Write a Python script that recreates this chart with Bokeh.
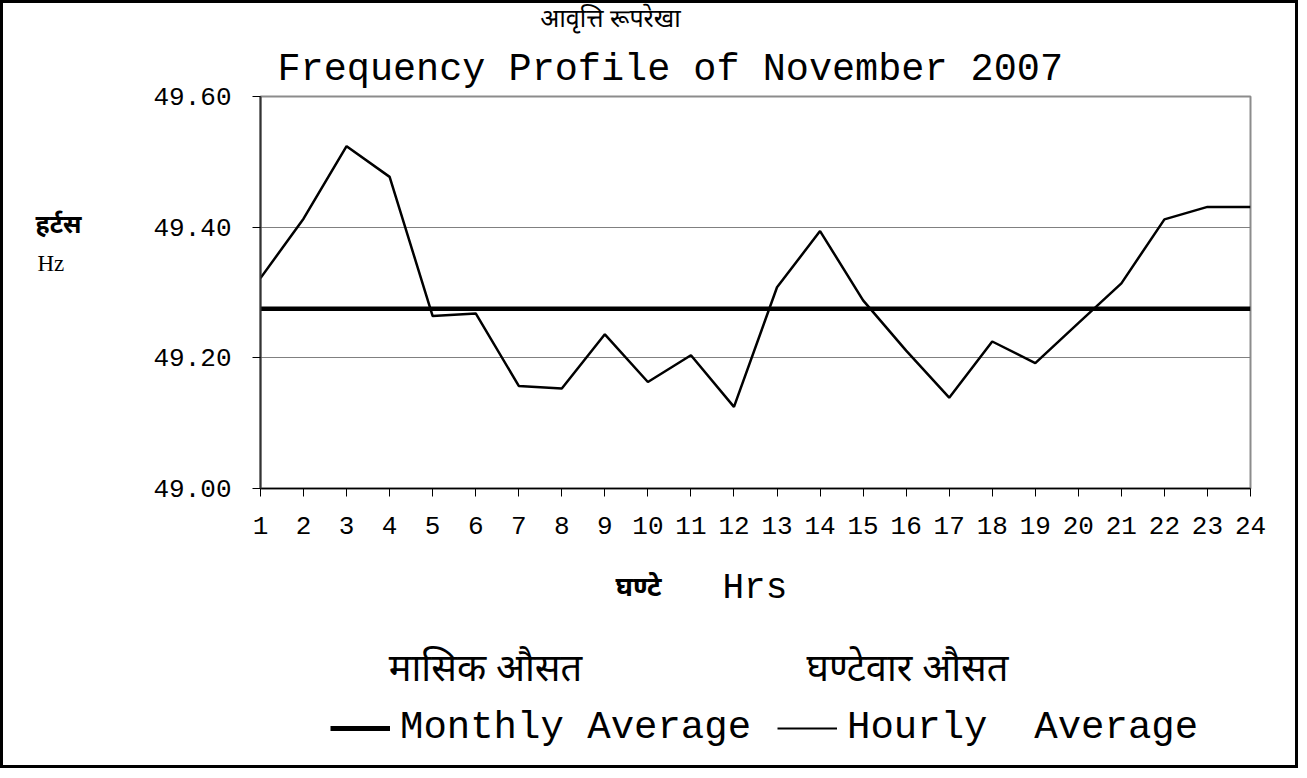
from bokeh.plotting import figure
from bokeh.layouts import column, row
from bokeh.models import (Range1d, FixedTicker, PrintfTickFormatter, Label,
                          Legend, LegendItem)
from bokeh.embed import file_html
from bokeh.resources import INLINE

# ---------------- data ----------------
hours = list(range(1, 25))
hourly_average = [49.322, 49.413, 49.524, 49.477, 49.264, 49.268, 49.157, 49.153,
                  49.236, 49.163, 49.204, 49.125, 49.308, 49.394, 49.288, 49.211,
                  49.139, 49.225, 49.192, 49.253, 49.314, 49.412, 49.431, 49.431]
monthly_average_value = 49.275
monthly_average = [monthly_average_value for _ in hours]
y_ticks = [49.00, 49.20, 49.40, 49.60]

title_hi = "आवृत्ति रूपरेखा"
title_en = "Frequency Profile of November 2007"
ylabel_hi = "हर्टस"
ylabel_en = "Hz"
xlabel_hi = "घण्टे"
xlabel_en = "Hrs"
legend_hi = ["मासिक औसत", "घण्टेवार औसत"]
legend_en = ["Monthly Average", "Hourly  Average"]

MONO = "Liberation Mono"
SERIF = "Liberation Serif"
DEV = "Noto Sans Devanagari, Lohit Devanagari, FreeSans, Noto Sans, sans-serif"

TOTAL_W = 1292
TOP_H, MAIN_H, BOT_H = 37, 503, 222
LEFT_W = 120


def text_panel(w, h):
    """A blank figure whose frame covers it entirely; y grows downwards (px)."""
    f = figure(width=w, height=h, output_backend="svg", toolbar_location=None,
               x_range=Range1d(0, w), y_range=Range1d(h, 0),
               x_axis_type=None, y_axis_type=None,
               min_border=0, min_border_left=0, min_border_right=0,
               min_border_top=0, min_border_bottom=0)
    f.outline_line_color = None
    f.background_fill_color = "white"
    f.border_fill_color = "white"
    return f


def lab(f, text, x, y, font, size, align="left", bold=False):
    f.add_layout(Label(x=x, y=y, text=text, text_font=font, text_font_size=size,
                       text_align=align, text_baseline="alphabetic",
                       text_color="#000000",
                       text_font_style="bold" if bold else "normal"))


# ---------------- top: Hindi title ----------------
top = text_panel(TOTAL_W, TOP_H)
lab(top, title_hi, 607, 17, DEV, "25px", align="center")

# ---------------- left: y label ----------------
left = text_panel(LEFT_W, MAIN_H)
lab(left, ylabel_hi, 32, 168, DEV, "25px", bold=True)
lab(left, ylabel_en, 34, 214, SERIF, "23px")

# ---------------- main chart ----------------
p = figure(width=TOTAL_W - LEFT_W, height=MAIN_H, output_backend="svg",
           toolbar_location=None,
           x_range=Range1d(1, 24), y_range=Range1d(49.0, 49.6),
           min_border_left=137, min_border_right=45,
           min_border_top=56, min_border_bottom=55)
p.background_fill_color = "white"
p.border_fill_color = "white"
p.outline_line_color = "#8c8c8c"
p.outline_line_width = 2

p.title.text = title_en
p.title.text_font = MONO
p.title.text_font_size = "38.5px"
p.title.text_font_style = "normal"
p.title.text_color = "#000000"
p.title.align = "left"
p.title.offset = 17
p.title.standoff = 9

xa = p.xaxis[0]
xa.ticker = FixedTicker(ticks=hours)
xa.major_label_text_font = MONO
xa.major_label_text_font_size = "26px"
xa.major_label_text_color = "#000000"
xa.major_label_standoff = 20
xa.major_tick_out = 8
xa.major_tick_in = 0
xa.minor_tick_line_color = None
xa.axis_line_color = "#000000"
xa.axis_line_width = 1.5
xa.major_tick_line_color = "#000000"

ya = p.yaxis[0]
ya.ticker = FixedTicker(ticks=y_ticks)
ya.formatter = PrintfTickFormatter(format="%.2f")
ya.major_label_text_font = MONO
ya.major_label_text_font_size = "26px"
ya.major_label_text_color = "#000000"
ya.major_label_standoff = 21
ya.major_tick_out = 8
ya.major_tick_in = 0
ya.minor_tick_line_color = None
ya.axis_line_color = "#333333"
ya.axis_line_width = 2
ya.major_tick_line_color = "#000000"

p.xgrid.grid_line_color = None
p.ygrid.ticker = FixedTicker(ticks=y_ticks)
p.ygrid.grid_line_color = "#808080"
p.ygrid.grid_line_width = 1

p.line(hours, monthly_average, line_color="#000000", line_width=4.5)
p.line(hours, hourly_average, line_color="#000000", line_width=2.5)

# ---------------- bottom: axis title + legend ----------------
bot = text_panel(TOTAL_W, BOT_H)
lab(bot, xlabel_hi, 612, 46, DEV, "27px", bold=True)
lab(bot, xlabel_en, 719, 45, MONO, "36px")
lab(bot, legend_hi[0], 482, 128, DEV, "38px", align="center")
lab(bot, legend_hi[1], 904, 128, DEV, "38px", align="center")

# legend swatches styled like the two series (no visible data of their own)
nan = float("nan")
sw_month = bot.line([nan], [nan], line_color="#000000", line_width=5)
sw_hour = bot.line([nan], [nan], line_color="#000000", line_width=2)
legend = Legend(items=[LegendItem(label=legend_en[0], renderers=[sw_month]),
                       LegendItem(label=legend_en[1], renderers=[sw_hour])],
                orientation="horizontal", location=(327, 15),
                label_text_font=MONO, label_text_font_size="39px",
                label_text_color="#000000",
                glyph_width=60, glyph_height=20, label_standoff=10, spacing=26,
                padding=0, margin=0, border_line_color=None,
                background_fill_alpha=0)
bot.add_layout(legend, "center")

layout = column(top, row(left, p), bot,
                styles={"border": "3px solid #000000", "background": "white"})

open("out.html", "w").write(file_html(layout, INLINE))
